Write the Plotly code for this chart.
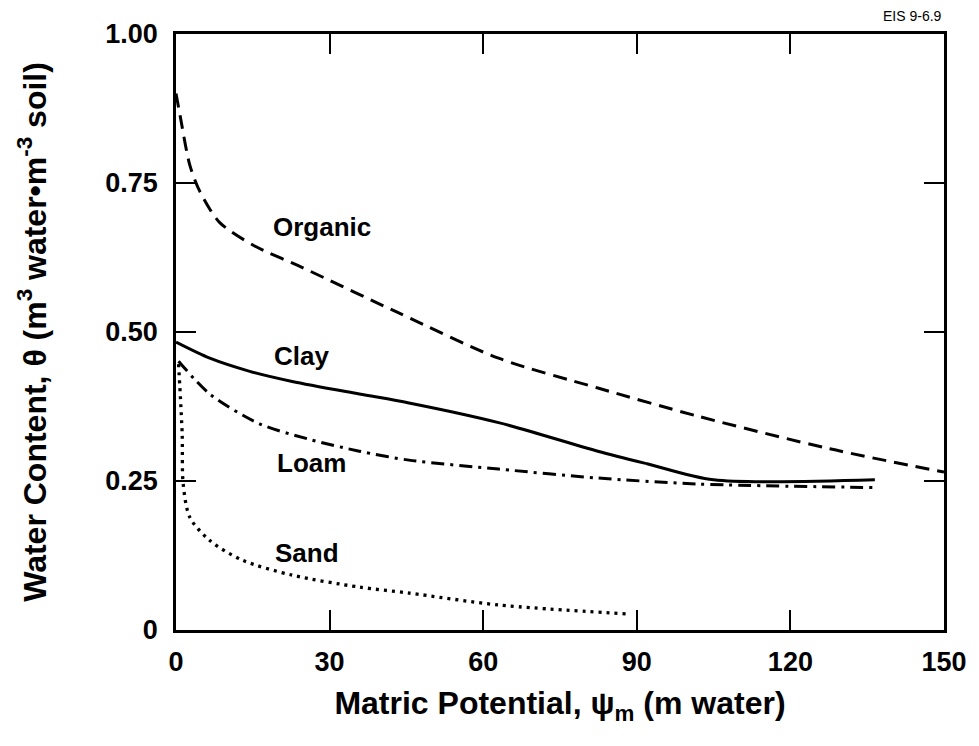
import plotly.graph_objects as go

# Soil water retention curves: water content vs matric potential
organic_x = [0, 0.8, 2.7, 4.7, 8.5, 15, 24.7, 43.5, 63, 82.4, 101.8, 127.7, 150]
organic_y = [0.90, 0.863, 0.78, 0.735, 0.684, 0.646, 0.608, 0.532, 0.456, 0.406, 0.359, 0.304, 0.265]

clay_x = [0, 6.6, 14.4, 22.7, 35.8, 45.5, 63, 82.4, 92, 105, 136.5]
clay_y = [0.483, 0.456, 0.434, 0.417, 0.396, 0.381, 0.348, 0.30, 0.279, 0.252, 0.252]

loam_x = [0.5, 6.6, 16.3, 26, 35.8, 45.5, 63, 82.4, 101.8, 136.5]
loam_y = [0.451, 0.396, 0.346, 0.32, 0.30, 0.285, 0.27, 0.255, 0.245, 0.239]

sand_x = [0.5, 1.2, 1.4, 2.7, 6.6, 13, 22.7, 35.8, 45.5, 63, 88]
sand_y = [0.446, 0.33, 0.245, 0.189, 0.15, 0.117, 0.092, 0.072, 0.062, 0.042, 0.027]

labels = ["Organic", "Clay", "Loam", "Sand"]
label_x = [28.6, 24.5, 26.4, 25.6]
label_y = [0.676, 0.459, 0.28, 0.13]

x_ticks = [0, 30, 60, 90, 120, 150]
y_ticks = [0, 0.25, 0.5, 0.75, 1.0]
y_ticktext = ["0", "0.25", "0.50", "0.75", "1.00"]

FONT = "Liberation Sans, Arial, sans-serif"

fig = go.Figure()
series = [
    (organic_x, organic_y, "14px,8px", 3),
    (clay_x, clay_y, "solid", 3),
    (loam_x, loam_y, "13px,6px,3px,6px", 3),
    (sand_x, sand_y, "3px,5px", 3.3),
]
for xs, ys, dash, w in series:
    fig.add_trace(go.Scatter(
        x=xs, y=ys, mode="lines",
        line=dict(color="black", width=w, dash=dash, shape="spline", smoothing=0.8),
        showlegend=False, hoverinfo="skip",
    ))

for t, lx, ly in zip(labels, label_x, label_y):
    fig.add_annotation(x=lx, y=ly, text=f"<b>{t}</b>", showarrow=False,
                       font=dict(family=FONT, size=26, color="black"))

fig.add_annotation(xref="paper", yref="paper", x=1.0, y=1.0, xanchor="right", yanchor="bottom",
                   yshift=8, text="EIS 9-6.9", showarrow=False,
                   font=dict(family=FONT, size=14, color="black"))

axis_common = dict(
    showline=True, linecolor="black", linewidth=2.5, mirror="ticks",
    ticks="inside", ticklen=20, tickwidth=2, tickcolor="black",
    showgrid=False, zeroline=False,
    tickfont=dict(family=FONT, size=27, color="black"),
)

fig.update_xaxes(
    range=[0, 150], tickvals=x_ticks, ticktext=[f"<b>{v}</b>" for v in x_ticks],
    ticklabelstandoff=6,
    title=dict(text="<b>Matric Potential, ψ<sub>m</sub> (m water)</b>",
               font=dict(family=FONT, size=32, color="black"), standoff=16),
    **axis_common,
)
fig.update_yaxes(
    range=[0, 1.0], tickvals=y_ticks, ticktext=[f"<b>{t}</b>" for t in y_ticktext],
    ticklabelstandoff=10,
    title=dict(text="<b>Water Content, θ (m<sup>3</sup> water•m<sup>-3</sup> soil)</b>",
               font=dict(family=FONT, size=32, color="black"), standoff=50),
    **axis_common,
)

fig.update_layout(
    width=979, height=746,
    margin=dict(l=176, r=31, t=34, b=116),
    paper_bgcolor="white", plot_bgcolor="white",
)

fig.write_html("out.html")
